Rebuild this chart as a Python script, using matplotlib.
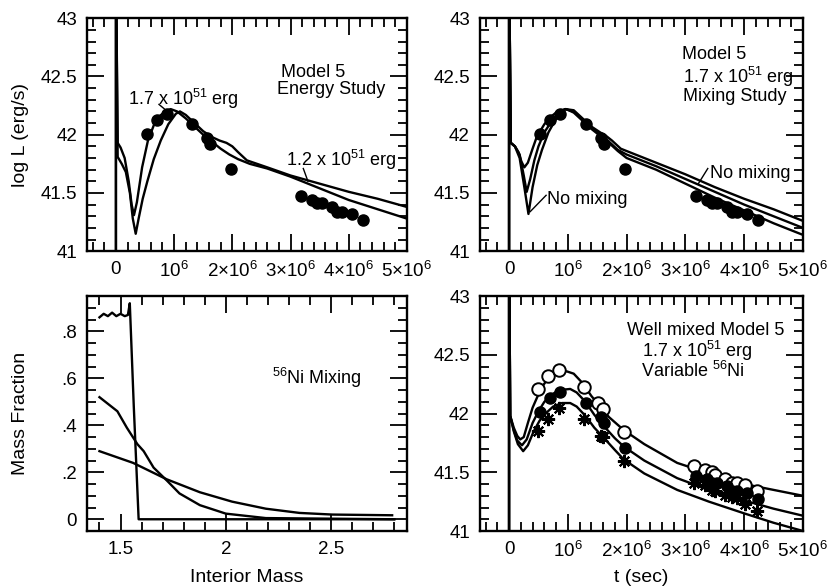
import matplotlib
matplotlib.use("Agg")
import matplotlib.pyplot as plt
from matplotlib.ticker import MultipleLocator, FixedLocator, FixedFormatter

plt.rcParams["font.family"] = ["Liberation Sans", "DejaVu Sans"]
plt.rcParams["mathtext.fontset"] = "custom"
plt.rcParams["mathtext.rm"] = "Liberation Sans"
plt.rcParams["mathtext.it"] = "Liberation Sans:italic"
plt.rcParams["mathtext.bf"] = "Liberation Sans:bold"
plt.rcParams["font.size"] = 13

# ---- observed light curve (t in units of 1e6 s, log L) ----
obs_t = [0.53, 0.70, 0.87, 1.31, 1.56, 1.62, 1.97, 3.18, 3.37, 3.45, 3.54,
         3.71, 3.80, 3.88, 4.05, 4.24]
obs_L = [42.01, 42.13, 42.18, 42.09, 41.97, 41.92, 41.71, 41.47, 41.44, 41.41,
         41.41, 41.38, 41.34, 41.34, 41.32, 41.27]

# bottom-right: brighter (open) and fainter (asterisk) variants
open_t = [0.49, 0.67, 0.85, 1.28, 1.52, 1.60, 1.96, 3.15, 3.34, 3.45, 3.50,
          3.68, 3.79, 3.88, 4.02, 4.22]
open_L = [42.21, 42.32, 42.37, 42.23, 42.09, 42.04, 41.84, 41.55, 41.52, 41.50,
          41.48, 41.44, 41.41, 41.41, 41.39, 41.34]
star_t = [0.49, 0.66, 0.85, 1.27, 1.56, 1.60, 1.96, 3.15, 3.34, 3.45, 3.50,
          3.68, 3.79, 3.88, 4.02, 4.22]
star_L = [41.85, 41.95, 42.05, 41.95, 41.81, 41.80, 41.60, 41.41, 41.39, 41.35,
          41.34, 41.31, 41.29, 41.28, 41.23, 41.17]

# ---- energy study models ----
e17_t = [0, 0, 0.03, 0.08, 0.15, 0.22, 0.27, 0.31, 0.36, 0.45, 0.55, 0.65,
         0.75, 0.85, 0.94, 1.05, 1.2, 1.35, 1.5, 1.65, 1.8, 1.95, 2.1, 2.3,
         2.6, 3.0, 3.5, 4.0, 4.5, 5.0]
e17_L = [41.0, 43.5, 41.93, 41.89, 41.80, 41.60, 41.40, 41.31, 41.42, 41.72,
         41.95, 42.08, 42.16, 42.20, 42.22, 42.20, 42.14, 42.07, 42.00, 41.94,
         41.88, 41.83, 41.79, 41.75, 41.71, 41.64, 41.54, 41.44, 41.36, 41.28]
e12_t = [0, 0, 0.03, 0.1, 0.17, 0.24, 0.29, 0.34, 0.39, 0.46, 0.54, 0.65,
         0.77, 0.9, 1.03, 1.1, 1.2, 1.35, 1.5, 1.65, 1.78, 1.9, 2.0, 2.1,
         2.25, 2.6, 3.0, 3.5, 4.0, 4.5, 5.0]
e12_L = [41.0, 43.5, 41.81, 41.75, 41.68, 41.50, 41.28, 41.15, 41.28, 41.45,
         41.60, 41.79, 41.95, 42.09, 42.18, 42.20, 42.17, 42.10, 42.03, 41.98,
         41.95, 41.93, 41.90, 41.85, 41.78, 41.72, 41.65, 41.58, 41.51, 41.45,
         41.38]

# ---- mixing study models ----
mixA_t = [0, 0, 0.03, 0.1, 0.16, 0.21, 0.26, 0.32, 0.4, 0.47, 0.6, 0.7, 0.8,
          0.9, 0.97, 1.1, 1.25, 1.4, 1.55, 1.7, 1.85, 2.0, 2.5, 3.0, 3.5, 4.0,
          4.5, 5.0]
mixA_L = [41.0, 43.5, 41.93, 41.90, 41.85, 41.77, 41.72, 41.76, 41.88, 41.98,
          42.09, 42.15, 42.19, 42.21, 42.22, 42.19, 42.12, 42.05, 41.99, 41.93,
          41.86, 41.80, 41.70, 41.58, 41.46, 41.35, 41.24, 41.14]
mixB_t = [0, 0, 0.03, 0.1, 0.18, 0.25, 0.30, 0.36, 0.43, 0.5, 0.6, 0.73, 0.85,
          0.95, 1.1, 1.25, 1.4, 1.55, 1.7, 1.85, 2.0, 2.5, 3.0, 3.5, 4.0, 4.5,
          5.0]
mixB_L = [41.0, 43.5, 41.93, 41.90, 41.83, 41.65, 41.51, 41.62, 41.78, 41.90,
          42.02, 42.12, 42.19, 42.22, 42.20, 42.13, 42.06, 42.00, 41.94, 41.87,
          41.83, 41.73, 41.62, 41.51, 41.40, 41.30, 41.20]
mixC_t = [0, 0, 0.03, 0.1, 0.18, 0.26, 0.33, 0.4, 0.48, 0.56, 0.67, 0.78,
          0.88, 0.96, 1.1, 1.25, 1.4, 1.55, 1.65, 1.75, 1.9, 2.0, 2.5, 3.0,
          3.5, 4.0, 4.5, 5.0]
mixC_L = [41.0, 43.5, 41.93, 41.90, 41.80, 41.55, 41.32, 41.55, 41.74, 41.87,
          42.02, 42.12, 42.19, 42.22, 42.21, 42.14, 42.07, 42.02, 41.99, 41.95,
          41.88, 41.86, 41.76, 41.66, 41.55, 41.45, 41.36, 41.26]

# ---- 56Ni distributions ----
ni0_m = [1.40, 1.42, 1.44, 1.46, 1.48, 1.50, 1.52, 1.535, 1.544, 1.563,
         1.586, 2.80]
ni0_f = [0.86, 0.875, 0.865, 0.88, 0.865, 0.875, 0.865, 0.87, 0.92, 0.48,
         0.0, 0.0]
ni1_m = [1.40, 1.485, 1.53, 1.58, 1.61, 1.657, 1.72, 1.78, 1.877, 2.0, 2.19,
         2.80]
ni1_f = [0.52, 0.46, 0.39, 0.32, 0.29, 0.22, 0.165, 0.11, 0.06, 0.024,
         0.005, 0.0]
ni2_m = [1.40, 1.56, 1.72, 1.877, 2.03, 2.19, 2.35, 2.506, 2.79]
ni2_f = [0.29, 0.24, 0.17, 0.115, 0.075, 0.045, 0.027, 0.02, 0.017]

# ---- variable 56Ni models ----
hi_t = [0, 0, 0.02, 0.08, 0.14, 0.19, 0.25, 0.32, 0.4, 0.47, 0.55, 0.65,
        0.75, 0.85, 0.98, 1.1, 1.25, 1.4, 1.5, 1.7, 1.95, 2.3, 2.86, 3.4, 4.0,
        4.5, 5.0]
hi_L = [41.0, 43.5, 41.98, 41.88, 41.81, 41.78, 41.80, 41.92, 42.05, 42.13,
        42.22, 42.29, 42.33, 42.35, 42.36, 42.34, 42.26, 42.15, 42.09, 41.97,
        41.86, 41.74, 41.58, 41.49, 41.40, 41.35, 41.30]
mid_t = [0, 0, 0.02, 0.08, 0.14, 0.22, 0.3, 0.4, 0.5, 0.6, 0.72, 0.85, 1.04,
         1.15, 1.3, 1.45, 1.6, 1.8, 1.95, 2.3, 2.86, 3.4, 4.0, 4.5, 5.0]
mid_L = [41.0, 43.5, 41.98, 41.86, 41.77, 41.73, 41.78, 41.92, 42.02, 42.10,
         42.16, 42.20, 42.21, 42.18, 42.10, 41.99, 41.90, 41.79, 41.72, 41.60,
         41.45, 41.35, 41.26, 41.19, 41.13]
lo_t = [0, 0, 0.02, 0.08, 0.15, 0.24, 0.32, 0.42, 0.52, 0.62, 0.75, 0.9, 1.04,
        1.15, 1.3, 1.45, 1.6, 1.8, 1.95, 2.3, 2.86, 3.4, 4.0, 4.5, 5.0]
lo_L = [41.0, 43.5, 41.98, 41.85, 41.74, 41.68, 41.73, 41.85, 41.94, 42.00,
        42.06, 42.09, 42.09, 42.06, 41.98, 41.88, 41.80, 41.69, 41.61, 41.49,
        41.35, 41.25, 41.15, 41.07, 41.00]

t_ticks = [0, 1, 2, 3, 4, 5]
t_labels = ["0", r"$10^6$", r"$2{\times}10^6$", r"$3{\times}10^6$",
            r"$4{\times}10^6$", r"$5{\times}10^6$"]
L_ticks = [41, 41.5, 42, 42.5, 43]
L_labels = ["41", "41.5", "42", "42.5", "43"]
m_ticks = [1.5, 2, 2.5]
m_labels = ["1.5", "2", "2.5"]
f_ticks = [0, 0.2, 0.4, 0.6, 0.8]
f_labels = ["0", ".2", ".4", ".6", ".8"]

E6 = 1e6
LW = 1.7


def scale(vals):
    return [v * E6 for v in vals]


def style_axes(ax):
    for s in ax.spines.values():
        s.set_linewidth(1.7)
    ax.tick_params(which="both", direction="in", top=True, right=True,
                   width=1.3, labelsize=13.5)
    ax.tick_params(which="major", length=12, pad=7)
    ax.tick_params(which="minor", length=6.5)


def lc_axes(ax):
    ax.set_xlim(-0.5e6, 5e6)
    ax.set_ylim(41, 43)
    ax.xaxis.set_major_locator(FixedLocator([v * E6 for v in t_ticks]))
    ax.xaxis.set_major_formatter(FixedFormatter(t_labels))
    ax.xaxis.set_minor_locator(MultipleLocator(0.2e6))
    ax.yaxis.set_major_locator(FixedLocator(L_ticks))
    ax.yaxis.set_major_formatter(FixedFormatter(L_labels))
    ax.yaxis.set_minor_locator(MultipleLocator(0.1))
    style_axes(ax)


fig = plt.figure(figsize=(8.27, 5.87), dpi=100)
ax1 = fig.add_axes([0.105, 0.572, 0.387, 0.397])
ax2 = fig.add_axes([0.580, 0.572, 0.391, 0.397])
ax3 = fig.add_axes([0.105, 0.0954, 0.387, 0.400])
ax4 = fig.add_axes([0.580, 0.0954, 0.391, 0.400])

# 1. Energy study
lc_axes(ax1)
ax1.plot(scale(e17_t), e17_L, color="black", lw=LW)
ax1.plot(scale(e12_t), e12_L, color="black", lw=LW)
ax1.plot(scale(obs_t), obs_L, "o", color="black", ms=8)
ax1.text(2.83e6, 42.53, "Model 5", va="center", ha="left")
ax1.text(2.77e6, 42.39, "Energy Study", va="center", ha="left")
ax1.text(0.21e6, 42.31, r"1.7 x 10$^{51}$ erg", va="center", ha="left")
ax1.plot([0.74e6, 0.86e6], [42.26, 42.21], color="black", lw=1.0)
ax1.text(2.93e6, 41.78, r"1.2 x 10$^{51}$ erg", va="center", ha="left")
ax1.plot([3.22e6, 3.30e6], [41.71, 41.60], color="black", lw=1.0)
ax1.set_ylabel("log L (erg/s)", fontsize=14)
ax1.yaxis.set_label_coords(-0.18, 0.5)

# 2. Mixing study
lc_axes(ax2)
ax2.plot(scale(mixA_t), mixA_L, color="black", lw=LW)
ax2.plot(scale(mixB_t), mixB_L, color="black", lw=LW)
ax2.plot(scale(mixC_t), mixC_L, color="black", lw=LW)
ax2.plot(scale(obs_t), obs_L, "o", color="black", ms=8)
ax2.text(2.95e6, 42.69, "Model 5", va="center", ha="left")
ax2.text(2.96e6, 42.50, r"1.7 x 10$^{51}$ erg", va="center", ha="left")
ax2.text(2.96e6, 42.33, "Mixing Study", va="center", ha="left")
ax2.text(0.65e6, 41.44, "No mixing", va="center", ha="left")
ax2.plot([0.63e6, 0.36e6], [41.48, 41.34], color="black", lw=1.0)
ax2.text(3.42e6, 41.67, "No mixing", va="center", ha="left")
ax2.plot([3.38e6, 3.22e6], [41.71, 41.58], color="black", lw=1.0)

# 3. Ni mixing
ax3.set_xlim(1.34, 2.86)
ax3.set_ylim(-0.05, 0.95)
ax3.xaxis.set_major_locator(FixedLocator(m_ticks))
ax3.xaxis.set_major_formatter(FixedFormatter(m_labels))
ax3.xaxis.set_minor_locator(MultipleLocator(0.1))
ax3.yaxis.set_major_locator(FixedLocator(f_ticks))
ax3.yaxis.set_major_formatter(FixedFormatter(f_labels))
ax3.yaxis.set_minor_locator(MultipleLocator(0.05))
style_axes(ax3)
ax3.plot(ni0_m, ni0_f, color="black", lw=LW)
ax3.plot(ni1_m, ni1_f, color="black", lw=LW)
ax3.plot(ni2_m, ni2_f, color="black", lw=LW)
ax3.text(2.22, 0.60, r"$^{56}$Ni Mixing", va="center", ha="left")
ax3.set_xlabel("Interior Mass", fontsize=14)
ax3.xaxis.set_label_coords(0.5, -0.16)
ax3.set_ylabel("Mass Fraction", fontsize=14)
ax3.yaxis.set_label_coords(-0.18, 0.5)

# 4. Variable Ni
lc_axes(ax4)
ax4.plot(scale(hi_t), hi_L, color="black", lw=LW)
ax4.plot(scale(mid_t), mid_L, color="black", lw=LW)
ax4.plot(scale(lo_t), lo_L, color="black", lw=LW)
ax4.plot(scale(open_t), open_L, "o", mfc="white", mec="black", mew=1.4,
         ms=9)
ax4.plot(scale(obs_t), obs_L, "o", color="black", ms=8)
ax4.plot(scale(star_t), star_L, marker=(8, 2, 0), ls="none", color="black",
         mew=1.5, ms=9.5)
ax4.text(3.34e6, 42.71, "Well mixed Model 5", va="center", ha="center")
ax4.text(3.20e6, 42.535, r"1.7 x 10$^{51}$ erg", va="center", ha="center")
ax4.text(3.13e6, 42.36, r"Variable $^{56}$Ni", va="center", ha="center")
ax4.set_xlabel("t (sec)", fontsize=14)
ax4.xaxis.set_label_coords(0.5, -0.16)

fig.savefig("out.png", dpi=100)
